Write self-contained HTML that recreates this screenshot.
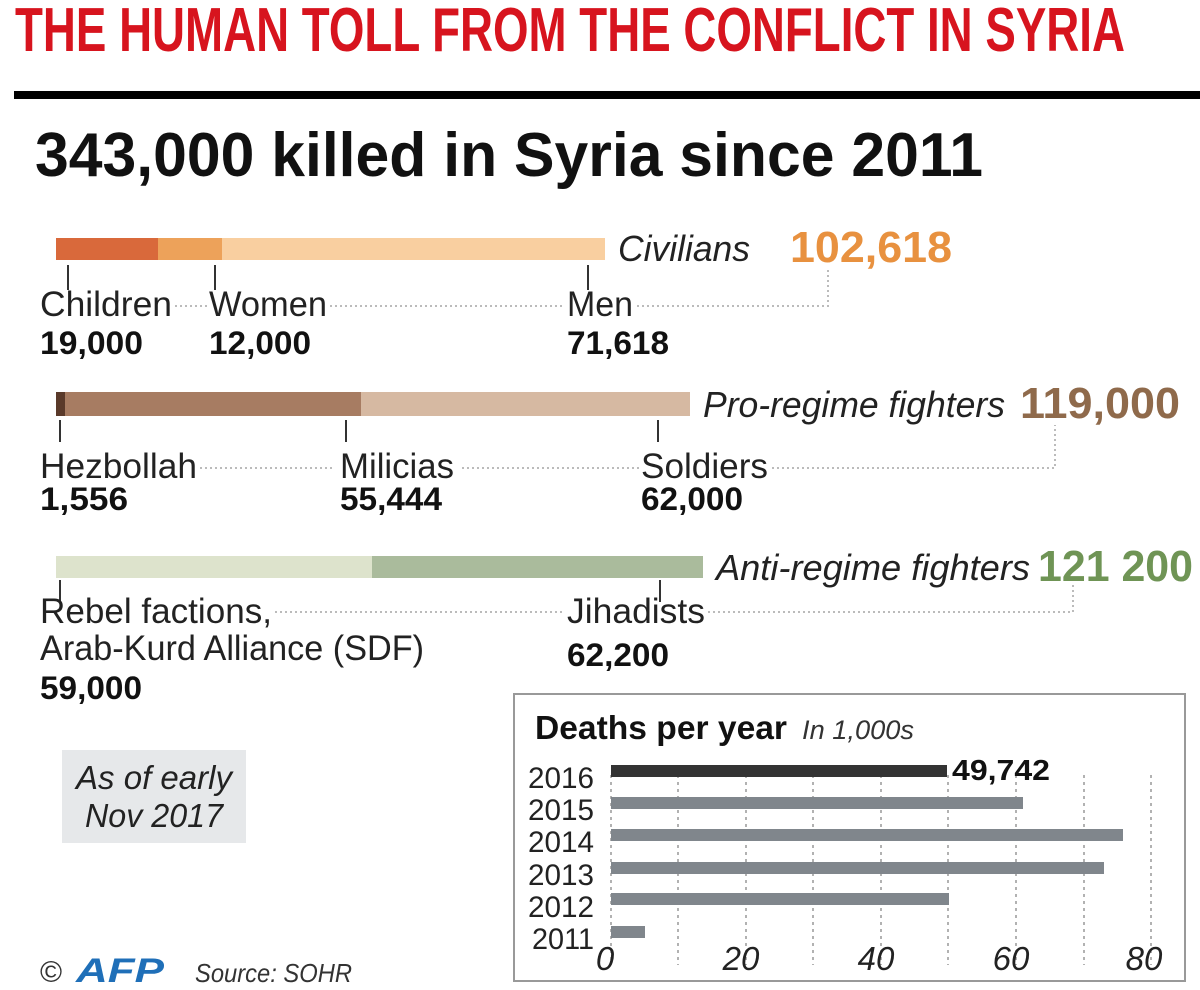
<!DOCTYPE html>
<html><head><meta charset="utf-8"><style>
html,body{margin:0;padding:0;background:#fff;}
svg{display:block;}
text{font-family:"Liberation Sans",sans-serif;}
</style></head><body>
<svg width="1200" height="990" viewBox="0 0 1200 990" xmlns="http://www.w3.org/2000/svg">
<rect width="1200" height="990" fill="#fff"/>
<text x="15" y="51" font-size="62" font-weight="bold" fill="#d7141e" textLength="1110" lengthAdjust="spacingAndGlyphs">THE HUMAN TOLL FROM THE CONFLICT IN SYRIA</text>
<rect x="14" y="91" width="1186" height="8" fill="#000"/>
<text x="35" y="176" font-size="62" font-weight="bold" fill="#111" textLength="948" lengthAdjust="spacingAndGlyphs">343,000 killed in Syria since 2011</text>

<g fill="none" stroke="#bbb" stroke-width="2" stroke-dasharray="2,3">
<path d="M175 306H207M330 306H565M637 306H828V270"/>
<path d="M200 468H335M462 468H640M772 468H1055V425"/>
<path d="M275 612H562M708 612H1073V585"/>
</g>

<rect x="56" y="238" width="102" height="22" fill="#d9693b"/>
<rect x="158" y="238" width="64" height="22" fill="#eda25a"/>
<rect x="222" y="238" width="383" height="22" fill="#f9cfa0"/>
<g stroke="#333" stroke-width="2"><path d="M68 265V290M215 265V290M588 265V290M60 420V442M346 420V442M658 420V442M60 580V602M660 580V602"/></g>
<text x="618" y="261" font-size="36" font-style="italic" fill="#222" textLength="132" lengthAdjust="spacingAndGlyphs">Civilians</text>
<text x="790" y="262" font-size="44" font-weight="bold" fill="#e8913f" textLength="162" lengthAdjust="spacingAndGlyphs">102,618</text>
<g font-size="35" fill="#222">
<text x="40" y="316" textLength="132" lengthAdjust="spacingAndGlyphs">Children</text>
<text x="209" y="316" textLength="118" lengthAdjust="spacingAndGlyphs">Women</text>
<text x="567" y="316" textLength="66" lengthAdjust="spacingAndGlyphs">Men</text>
<text x="40" y="478" textLength="157" lengthAdjust="spacingAndGlyphs">Hezbollah</text>
<text x="340" y="478" textLength="114" lengthAdjust="spacingAndGlyphs">Milicias</text>
<text x="641" y="478" textLength="127" lengthAdjust="spacingAndGlyphs">Soldiers</text>
<text x="40" y="623" textLength="232" lengthAdjust="spacingAndGlyphs">Rebel factions,</text>
<text x="40" y="660" textLength="384" lengthAdjust="spacingAndGlyphs">Arab-Kurd Alliance (SDF)</text>
<text x="567" y="623" textLength="138" lengthAdjust="spacingAndGlyphs">Jihadists</text>
</g>
<g font-size="32" font-weight="bold" fill="#111">
<text x="40" y="354" textLength="103" lengthAdjust="spacingAndGlyphs">19,000</text>
<text x="209" y="354" textLength="102" lengthAdjust="spacingAndGlyphs">12,000</text>
<text x="567" y="354" textLength="102" lengthAdjust="spacingAndGlyphs">71,618</text>
<text x="40" y="510" textLength="88" lengthAdjust="spacingAndGlyphs">1,556</text>
<text x="340" y="510" textLength="102" lengthAdjust="spacingAndGlyphs">55,444</text>
<text x="641" y="510" textLength="102" lengthAdjust="spacingAndGlyphs">62,000</text>
<text x="567" y="666" textLength="102" lengthAdjust="spacingAndGlyphs">62,200</text>
<text x="40" y="699" textLength="102" lengthAdjust="spacingAndGlyphs">59,000</text>
</g>

<rect x="56" y="392" width="9" height="24" fill="#5a3a2a"/>
<rect x="65" y="392" width="296" height="24" fill="#a77c62"/>
<rect x="361" y="392" width="329" height="24" fill="#d6b9a2"/>
<text x="703" y="417" font-size="36" font-style="italic" fill="#222" textLength="302" lengthAdjust="spacingAndGlyphs">Pro-regime fighters</text>
<text x="1020" y="418" font-size="44" font-weight="bold" fill="#8f6a4b" textLength="160" lengthAdjust="spacingAndGlyphs">119,000</text>

<rect x="56" y="556" width="316" height="22" fill="#dde3cc"/>
<rect x="372" y="556" width="331" height="22" fill="#aabb9c"/>
<text x="716" y="580" font-size="36" font-style="italic" fill="#222" textLength="314" lengthAdjust="spacingAndGlyphs">Anti-regime fighters</text>
<text x="1038" y="581" font-size="44" font-weight="bold" fill="#6f9455" textLength="155" lengthAdjust="spacingAndGlyphs">121 200</text>

<rect x="62" y="750" width="184" height="93" fill="#e6e8ea"/>
<text x="154" y="789" font-size="33" font-style="italic" fill="#222" text-anchor="middle" textLength="156" lengthAdjust="spacingAndGlyphs">As of early</text>
<text x="154" y="827" font-size="33" font-style="italic" fill="#222" text-anchor="middle" textLength="138" lengthAdjust="spacingAndGlyphs">Nov 2017</text>

<text x="40" y="982" font-size="30" fill="#333">©</text>
<text x="76" y="982" font-size="34" font-weight="bold" font-style="italic" fill="#1f6fb8" textLength="88" lengthAdjust="spacingAndGlyphs">AFP</text>
<text x="195" y="982" font-size="26" font-style="italic" fill="#333" textLength="157" lengthAdjust="spacingAndGlyphs">Source: SOHR</text>

<rect x="514" y="694" width="671" height="287" fill="#fff" stroke="#999" stroke-width="2"/>
<text x="535" y="739" font-size="33" font-weight="bold" fill="#111" textLength="252" lengthAdjust="spacingAndGlyphs">Deaths per year</text>
<text x="802" y="739" font-size="27" font-style="italic" fill="#333" textLength="112" lengthAdjust="spacingAndGlyphs">In 1,000s</text>
<g stroke="#999" stroke-width="1.5" stroke-dasharray="3,4">
<path d="M611 775V965M678 775V965M746 775V965M813 775V965M881 775V965M948 775V965M1016 775V965M1084 775V965M1151 775V965"/>
</g>
<rect x="611" y="765" width="336" height="12" fill="#333"/>
<rect x="611" y="797" width="412" height="12" fill="#80868c"/>
<rect x="611" y="829" width="512" height="12" fill="#80868c"/>
<rect x="611" y="862" width="493" height="12" fill="#80868c"/>
<rect x="611" y="893" width="338" height="12" fill="#80868c"/>
<rect x="611" y="926" width="34" height="12" fill="#80868c"/>
<text x="952" y="780" font-size="29" font-weight="bold" fill="#111" textLength="98" lengthAdjust="spacingAndGlyphs">49,742</text>
<g font-size="30" fill="#222" text-anchor="end">
<text x="594" y="788" textLength="66" lengthAdjust="spacingAndGlyphs">2016</text>
<text x="594" y="820" textLength="66" lengthAdjust="spacingAndGlyphs">2015</text>
<text x="594" y="852" textLength="66" lengthAdjust="spacingAndGlyphs">2014</text>
<text x="594" y="885" textLength="66" lengthAdjust="spacingAndGlyphs">2013</text>
<text x="594" y="917" textLength="66" lengthAdjust="spacingAndGlyphs">2012</text>
<text x="594" y="949" textLength="62" lengthAdjust="spacingAndGlyphs">2011</text>
</g>
<g font-size="33" font-style="italic" fill="#222" text-anchor="middle">
<text x="605" y="970">0</text>
<text x="741" y="970">20</text>
<text x="876" y="970">40</text>
<text x="1011" y="970">60</text>
<text x="1144" y="970">80</text>
</g>
</svg>
</body></html>
